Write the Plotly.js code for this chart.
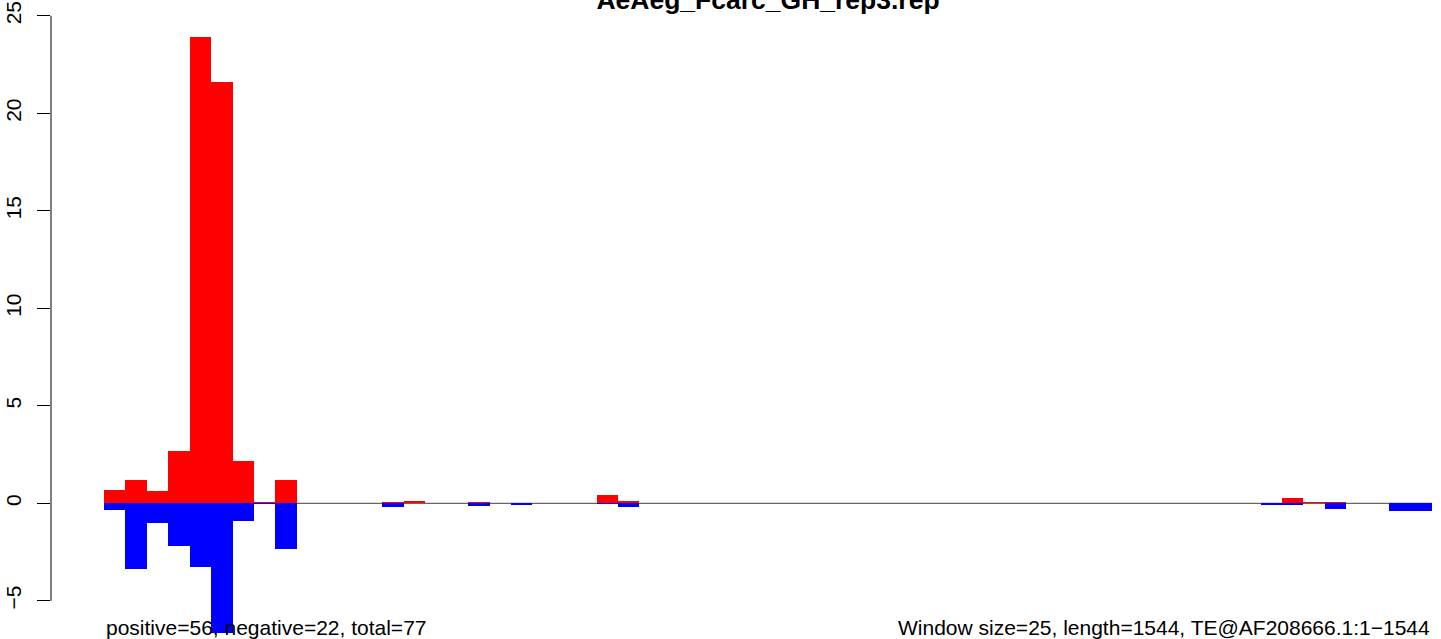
<!DOCTYPE html>
<html>
<head>
<meta charset="utf-8">
<script src="https://cdn.plot.ly/plotly-3.0.1.min.js"></script>
<style>html,body{margin:0;padding:0;background:#fff;}#chart{width:1441px;height:639px;}</style>
</head>
<body>
<div id="chart"></div>
<script>
// Window size 25, sequence length 1544 -> 62 windows
const windowSize = 25;
const windowStarts = [0,25,50,75,100,125,150,175,200,225,250,275,300,325,350,375,400,425,450,475,500,525,550,575,600,625,650,675,700,725,750,775,800,825,850,875,900,925,950,975,1000,1025,1050,1075,1100,1125,1150,1175,1200,1225,1250,1275,1300,1325,1350,1375,1400,1425,1450,1475,1500,1525];
const positiveValues = [0.68,1.19,0.63,2.68,23.93,21.62,2.18,0.08,1.19,0,0,0,0,0.07,0.12,0,0.03,0.07,0,0,0,0,0,0.43,0.12,0,0,0,0,0,0,0,0,0,0,0,0,0,0,0,0,0,0,0,0,0,0,0,0,0,0,0,0,0,0,0.27,0.07,0.07,0,0,0.03,0.03];
const negativeValues = [-0.34,-3.35,-0.99,-2.19,-3.25,-6.63,-0.89,-0.05,-2.33,0,0,0,0,-0.17,0,0,0,-0.12,0,-0.07,0,0,0,-0.05,-0.19,0,0,0,0,0,0,0,0,0,0,0,0,0,0,0,0,0,0,0,0,0,0,0,0,0,0,0,0,0,-0.07,-0.07,0,-0.29,0,0,-0.39,-0.39];
const yTickValues = [-5,0,5,10,15,20,25];
const titleText = "AeAeg_Fcarc_GH_rep3.rep";
const leftNote = "positive=56, negative=22, total=77";
const rightNote = "Window size=25, length=1544, TE@AF208666.1:1\u22121544";

const centers = windowStarts.map(s => s + windowSize / 2);
const font = "Liberation Sans, Arial, Helvetica, sans-serif";

const traces = [
  {type:'bar', x:centers, y:positiveValues, width:windowSize, marker:{color:'#FF0000', line:{width:0}}, hoverinfo:'skip', showlegend:false},
  {type:'bar', x:centers, y:negativeValues, width:windowSize, marker:{color:'#0000FF', line:{width:0}}, hoverinfo:'skip', showlegend:false}
];

const layout = {
  width:1441, height:639,
  margin:{l:51, r:0, t:0, b:0, pad:0},
  paper_bgcolor:'#ffffff', plot_bgcolor:'#ffffff',
  barmode:'overlay', bargap:0,
  showlegend:false,
  title:{text:titleText, font:{family:font, size:26.5, color:'#000', weight:'bold'}, xref:'container', yref:'container', x:768/1441, xanchor:'center', y:1, yanchor:'middle', automargin:false},
  xaxis:{range:[-61.86, 1560.5], visible:false, fixedrange:true},
  yaxis:{range:[-6.96, 25.81], tickvals:yTickValues, ticktext:yTickValues.map(v => v < 0 ? '\u2212' + Math.abs(v) : String(v)),
         ticks:'outside', ticklen:13, tickwidth:1, tickcolor:'#000', tickangle:-90,
         tickfont:{family:font, size:21, color:'#000'}, showgrid:false, zeroline:false, showline:false, ticklabelstandoff:8, fixedrange:true},
  shapes:[
    {type:'line', xref:'x', yref:'y', x0:0, x1:1550, y0:0, y1:0, line:{color:'#666666', width:1.2}, layer:'below'},
    {type:'line', xref:'paper', yref:'y', x0:0, x1:0, y0:-5, y1:25, line:{color:'#000', width:1}}
  ],
  annotations:[
    {text:leftNote, xref:'x', yref:'paper', x:0, y:0, xanchor:'left', yanchor:'bottom', yshift:-2, showarrow:false, font:{family:font, size:21, color:'#000'}},
    {text:rightNote, xref:'x', yref:'paper', x:1550, y:0, xanchor:'right', yanchor:'bottom', yshift:-2, showarrow:false, font:{family:font, size:21, color:'#000'}}
  ]
};

Plotly.newPlot('chart', traces, layout, {displayModeBar:false, staticPlot:true});
</script>
</body>
</html>
